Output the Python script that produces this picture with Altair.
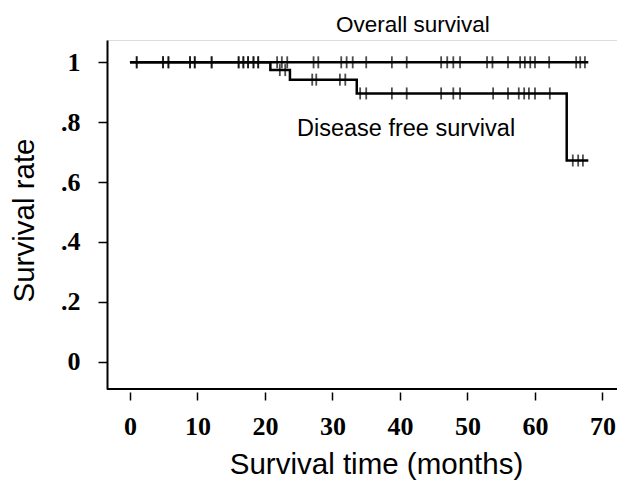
import altair as alt
import pandas as pd

# ---- data ----
os_step_time = [0, 67.9]
os_step_surv = [1.0, 1.0]

dfs_step_time = [0, 20.8, 23.7, 33.6, 64.7, 67.9]
dfs_step_surv = [1.0, 0.974, 0.942, 0.896, 0.672, 0.672]

os_censor_time = [1.0, 4.9, 5.7, 8.9, 9.6, 12.1, 16.1, 16.8, 17.5, 18.3, 19.0,
                  21.8, 22.5, 23.3, 27.2, 27.9, 31.3, 32.1, 33.0, 35.0, 38.8,
                  41.0, 46.1, 47.0, 47.9, 48.9, 52.9, 53.7, 56.0, 57.8, 58.5,
                  59.3, 60.0, 62.1, 66.1, 66.7, 67.4]
dfs_censor_time = [1.0, 4.9, 5.7, 8.9, 9.6, 12.1, 16.1, 16.8, 17.5, 18.3, 19.0,
                   22.2, 23.0, 27.0, 27.6, 31.1, 31.9, 34.1, 35.0, 38.8, 41.0,
                   46.1, 47.9, 48.9, 53.8, 56.0, 57.6, 58.4, 59.1, 60.0, 62.2,
                   65.6, 66.4, 67.1]

x_tick_values = [0, 5, 10, 15, 20, 25, 30, 35, 40, 45, 50, 55, 60, 65, 70]
x_tick_labels = ["0", "", "10", "", "20", "", "30", "", "40", "", "50", "", "60", "", "70"]
y_tick_values = [0, 0.1, 0.2, 0.3, 0.4, 0.5, 0.6, 0.7, 0.8, 0.9, 1.0]
y_tick_labels = ["0", "", ".2", "", ".4", "", ".6", "", ".8", "", "1"]

label_os = "Overall survival"
label_dfs = "Disease free survival"


def step_level(t, times, surv):
    lev = surv[0]
    for tt, ss in zip(times, surv):
        if tt <= t:
            lev = ss
    return lev


lines = pd.DataFrame({
    "t": os_step_time + dfs_step_time,
    "s": os_step_surv + dfs_step_surv,
    "curve": ["os"] * len(os_step_time) + ["dfs"] * len(dfs_step_time),
})
censors = pd.DataFrame({
    "t": os_censor_time + dfs_censor_time,
    "s": [step_level(t, os_step_time, os_step_surv) for t in os_censor_time]
    + [step_level(t, dfs_step_time, dfs_step_surv) for t in dfs_censor_time],
})


def label_expr(values, labels):
    expr = "''"
    for v, lab in reversed(list(zip(values, labels))):
        expr = f"(abs(datum.value - {v}) < 1e-6 ? '{lab}' : {expr})"
    return expr


W, H = 510, 349
SERIF = "Liberation Serif"
SANS = "Liberation Sans"

x_axis = alt.Axis(
    values=x_tick_values,
    labelExpr=label_expr(x_tick_values, x_tick_labels),
    labelFont=SERIF, labelFontWeight="bold", labelFontSize=26, labelColor="black",
    labelPadding=13, labelOverlap=False, labelFlush=False,
    tickSize={"condition": {"test": "datum.value % 10 === 0", "value": 8}, "value": 5},
    tickWidth=1.5, tickColor="black",
    domain=False, offset=3, grid=False,
    title="Survival time (months)", titleFont=SANS, titleFontSize=29.5,
    titleFontWeight="normal", titleColor="black",
    titleBaseline="alphabetic", titleX=269, titleY=81, titleAlign="center",
)
y_axis = alt.Axis(
    values=y_tick_values,
    labelExpr=label_expr(y_tick_values, y_tick_labels),
    labelFont=SERIF, labelFontWeight="bold", labelFontSize=26, labelColor="black",
    labelPadding=18, labelOverlap=False, labelFlush=False,
    tickSize={"condition": {"test": "abs(round(datum.value * 10) % 2) < 0.5", "value": 9}, "value": 5},
    tickWidth=1.5, tickColor="black",
    domain=True, domainColor="black", domainWidth=2, grid=False,
    title="Survival rate", titleFont=SANS, titleFontSize=29.5,
    titleFontWeight="normal", titleColor="black",
    titleAngle=-90, titleBaseline="alphabetic", titleX=-74, titleY=180, titleAlign="center",
)

xs = alt.Scale(domain=[-3.4, 72.15], nice=False, zero=False)
ys = alt.Scale(domain=[-0.0912, 1.0745], nice=False, zero=False)

line_layer = alt.Chart(lines).mark_line(
    interpolate="step-after", color="black", strokeWidth=2.5
).encode(
    x=alt.X("t:Q", scale=xs, axis=x_axis),
    y=alt.Y("s:Q", scale=ys, axis=y_axis),
    detail="curve:N",
)

censor_layer = alt.Chart(censors).mark_tick(
    orient="vertical", color="black", size=12, thickness=1.8
).encode(
    x=alt.X("t:Q", scale=xs),
    y=alt.Y("s:Q", scale=ys),
)

text_os = alt.Chart().mark_text(
    font=SANS, fontSize=22.5, color="black", align="center", baseline="middle"
).encode(
    x=alt.datum(41.9, scale=xs),
    y=alt.datum(1.1246, scale=ys),
    text=alt.value(label_os),
)
text_dfs = alt.Chart().mark_text(
    font=SANS, fontSize=23.5, color="black", align="center", baseline="middle"
).encode(
    x=alt.datum(40.9, scale=xs),
    y=alt.datum(0.777, scale=ys),
    text=alt.value(label_dfs),
)

x_line = alt.Chart().mark_rule(color="black", strokeWidth=2).encode(
    x=alt.value(0), x2=alt.value(W), y=alt.value(H)
)

chart = alt.layer(line_layer, censor_layer, text_os, text_dfs, x_line).properties(
    width=W, height=H,
    autosize=alt.AutoSizeParams(type="none"),
    padding={"left": 99, "top": 32, "right": 0, "bottom": 92},
).configure_view(stroke=None).configure(background="white")

chart.save("out.html", embed_options={"renderer": "svg", "actions": False})
